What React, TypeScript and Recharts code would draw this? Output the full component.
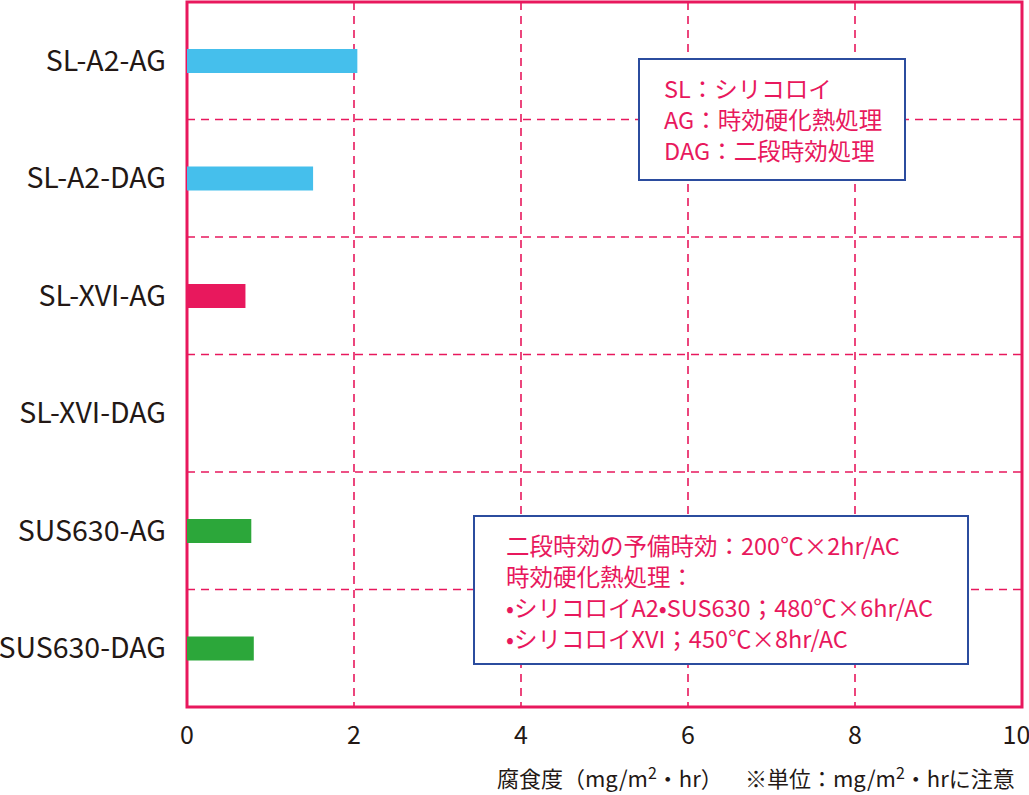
import React from 'react';
import { BarChart, Bar, XAxis, YAxis, CartesianGrid, Cell, ReferenceArea } from 'recharts';

const categories = ['SL-A2-AG', 'SL-A2-DAG', 'SL-XVI-AG', 'SL-XVI-DAG', 'SUS630-AG', 'SUS630-DAG'];
const corrosionRates = [2.04, 1.51, 0.7, 0, 0.77, 0.8];
const xTicks = [0, 2, 4, 6, 8, 10];
const noteLines = ['SL：シリコロイ', 'AG：時効硬化熱処理', 'DAG：二段時効処理'];
const conditionLines = [
  '二段時効の予備時効：200℃×2hr/AC',
  '時効硬化熱処理：',
  '•シリコロイA2•SUS630；480℃×6hr/AC',
  '•シリコロイXVI；450℃×8hr/AC',
];

const PINK = '#e8185d';
const BLUE = '#2b4c9e';
const TEXT = '#231815';
const barColors = ['#45bfec', '#45bfec', '#e8185d', '#e8185d', '#2ca73a', '#2ca73a'];
const FONT = '"Noto Sans CJK JP", "Noto Sans", sans-serif';

const data = categories.map((name, i) => ({ name, rate: corrosionRates[i] }));

const AxisCaption = (props: any) => {
  const { viewBox } = props;
  const y = viewBox.y + viewBox.height - 8;
  return (
    <g fontFamily={FONT} fontSize={22} fill={TEXT}>
      <text x={497} y={y}>
        腐食度（mg/m<tspan dy={-8} fontSize={16}>2</tspan>
        <tspan dy={8}>・hr）</tspan>
      </text>
      <text x={745} y={y}>
        ※単位：mg/m<tspan dy={-8} fontSize={16}>2</tspan>
        <tspan dy={8}>・hrに注意</tspan>
      </text>
    </g>
  );
};

const boxText: React.CSSProperties = {
  position: 'absolute',
  background: '#fff',
  border: `2px solid ${BLUE}`,
  color: PINK,
  fontFamily: FONT,
  fontSize: 23.5,
  lineHeight: '31px',
  boxSizing: 'border-box',
};

export default function App() {
  return (
    <div style={{ position: 'absolute', left: 0, top: 0, width: 1029, height: 795, background: '#fff' }}>
      <BarChart
        layout="vertical"
        width={1029}
        height={795}
        data={data}
        margin={{ top: 2, right: 7, left: 0, bottom: 0 }}
      >
        <CartesianGrid
          stroke={PINK}
          strokeWidth={1.6}
          strokeDasharray="8 6"
          horizontalCoordinatesGenerator={({ offset }: any) =>
            [1, 2, 3, 4, 5].map((i) => offset.top + (offset.height * i) / categories.length)
          }
        />
        <XAxis
          type="number"
          domain={[0, 10]}
          ticks={xTicks}
          height={88}
          axisLine={false}
          tickLine={false}
          tickSize={0}
          tickMargin={19}
          tick={{ fill: TEXT, fontSize: 25, fontFamily: FONT }}
          label={<AxisCaption />}
        />
        <YAxis
          type="category"
          dataKey="name"
          width={187}
          axisLine={false}
          tickLine={false}
          tickSize={0}
          tickMargin={21}
          tick={{ fill: TEXT, fontSize: 28.5, fontFamily: FONT }}
        />
        <Bar dataKey="rate" barSize={24} isAnimationActive={false}>
          {data.map((d, i) => (
            <Cell key={d.name} fill={barColors[i]} />
          ))}
        </Bar>
        <ReferenceArea x1={0} x2={10} fill="none" stroke={PINK} strokeWidth={3} />
      </BarChart>
      <div style={{ ...boxText, left: 638, top: 58, width: 268, height: 123, padding: '13px 0 0 24px' }}>
        {noteLines.map((t) => (
          <div key={t}>{t}</div>
        ))}
      </div>
      <div style={{ ...boxText, left: 473, top: 515, width: 496, height: 150, padding: '13px 0 0 31px' }}>
        {conditionLines.map((t) => (
          <div key={t}>{t}</div>
        ))}
      </div>
    </div>
  );
}
